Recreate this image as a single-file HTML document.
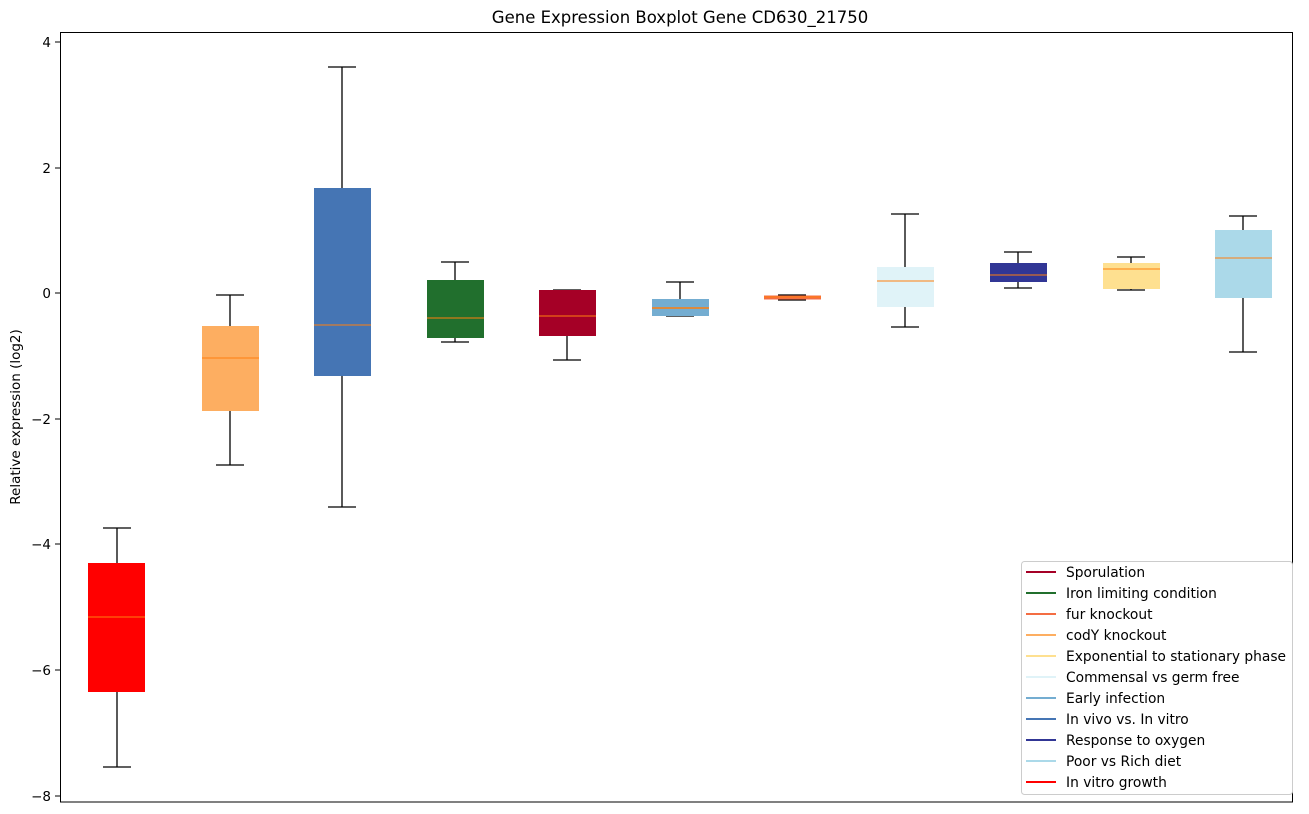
<!DOCTYPE html>
<html><head><meta charset="utf-8"><style>html,body{margin:0;padding:0;background:#fff}svg{display:block}</style></head><body>
<svg width="1309" height="814" xmlns="http://www.w3.org/2000/svg" font-family="DejaVu Sans, Liberation Sans, sans-serif">
<rect width="1309" height="814" fill="#fff"/>
<text x="680" y="23" font-size="16.5" text-anchor="middle" fill="#000">Gene Expression Boxplot Gene CD630_21750</text>
<text transform="translate(20,417) rotate(-90)" font-size="13.5" text-anchor="middle">Relative expression (log2)</text>
<g font-size="13.5" text-anchor="end" fill="#000">
<g stroke="#000"><line x1="55" x2="60" y1="42" y2="42"/><line x1="55" x2="60" y1="168" y2="168"/><line x1="55" x2="60" y1="293" y2="293"/><line x1="55" x2="60" y1="419" y2="419"/><line x1="55" x2="60" y1="544" y2="544"/><line x1="55" x2="60" y1="670" y2="670"/><line x1="55" x2="60" y1="796" y2="796"/></g>
<text x="51" y="47">4</text><text x="51" y="173">2</text><text x="51" y="298">0</text><text x="51" y="424">−2</text><text x="51" y="549">−4</text><text x="51" y="675">−6</text><text x="51" y="801">−8</text>
</g>
<g stroke="#000" stroke-width="1.3" fill="none">
<line x1="117" x2="117" y1="528" y2="767"/><line x1="103" x2="131" y1="528" y2="528"/><line x1="103" x2="131" y1="767" y2="767"/>
<line x1="230" x2="230" y1="295" y2="465"/><line x1="216" x2="244" y1="295" y2="295"/><line x1="216" x2="244" y1="465" y2="465"/>
<line x1="342" x2="342" y1="67" y2="507"/><line x1="328" x2="356" y1="67" y2="67"/><line x1="328" x2="356" y1="507" y2="507"/>
<line x1="455" x2="455" y1="262" y2="342"/><line x1="441" x2="469" y1="262" y2="262"/><line x1="441" x2="469" y1="342" y2="342"/>
<line x1="567" x2="567" y1="290" y2="360"/><line x1="553" x2="581" y1="290" y2="290"/><line x1="553" x2="581" y1="360" y2="360"/>
<line x1="680" x2="680" y1="282" y2="316"/><line x1="666" x2="694" y1="282" y2="282"/><line x1="666" x2="694" y1="316" y2="316"/>
<line x1="792" x2="792" y1="295" y2="300"/><line x1="778" x2="806" y1="295" y2="295"/><line x1="778" x2="806" y1="300" y2="300"/>
<line x1="905" x2="905" y1="214" y2="327"/><line x1="891" x2="919" y1="214" y2="214"/><line x1="891" x2="919" y1="327" y2="327"/>
<line x1="1018" x2="1018" y1="252" y2="288"/><line x1="1004" x2="1032" y1="252" y2="252"/><line x1="1004" x2="1032" y1="288" y2="288"/>
<line x1="1131" x2="1131" y1="257" y2="290"/><line x1="1117" x2="1145" y1="257" y2="257"/><line x1="1117" x2="1145" y1="290" y2="290"/>
<line x1="1243" x2="1243" y1="216" y2="352"/><line x1="1229" x2="1257" y1="216" y2="216"/><line x1="1229" x2="1257" y1="352" y2="352"/>
</g>
<g>
<rect x="88" y="563" width="57" height="129" fill="#ff0000"/><line x1="88" x2="145" y1="617" y2="617" stroke="#ff7f0e"/>
<rect x="202" y="326" width="57" height="85" fill="#fdae61"/><line x1="202" x2="259" y1="358" y2="358" stroke="#ff7f0e"/>
<rect x="314" y="188" width="57" height="188" fill="#4575b4"/><line x1="314" x2="371" y1="325" y2="325" stroke="#ff7f0e"/>
<rect x="427" y="280" width="57" height="58" fill="#216f2d"/><line x1="427" x2="484" y1="318" y2="318" stroke="#ff7f0e"/>
<rect x="539" y="290" width="57" height="46" fill="#a50026"/><line x1="539" x2="596" y1="316" y2="316" stroke="#ff7f0e"/>
<rect x="652" y="299" width="57" height="17" fill="#74add1"/><line x1="652" x2="709" y1="308" y2="308" stroke="#ff7f0e" stroke-width="1.5"/>
<rect x="764" y="295.5" width="57" height="4" fill="#f46d43"/><line x1="764" x2="821" y1="297" y2="297" stroke="#ff7f0e"/>
<rect x="877" y="267" width="57" height="40" fill="#e0f3f8"/><line x1="877" x2="934" y1="281" y2="281" stroke="#ff7f0e"/>
<rect x="990" y="263" width="57" height="19" fill="#313695"/><line x1="990" x2="1047" y1="275" y2="275" stroke="#ff7f0e"/>
<rect x="1103" y="263" width="57" height="26" fill="#fee090"/><line x1="1103" x2="1160" y1="269" y2="269" stroke="#ff7f0e"/>
<rect x="1215" y="230" width="57" height="68" fill="#abd9e9"/><line x1="1215" x2="1272" y1="258" y2="258" stroke="#ff7f0e"/>
</g>
<rect x="60.5" y="32.5" width="1232" height="769.5" fill="none" stroke="#000" stroke-width="1"/>
<rect x="1021.5" y="561.5" width="271" height="233" rx="3" fill="#fff" fill-opacity="0.8" stroke="#ccc"/>
<g font-size="13.8" fill="#000" stroke-width="2">
<line x1="1026" x2="1056" y1="572" y2="572" stroke="#a50026"/><text x="1066" y="577">Sporulation</text>
<line x1="1026" x2="1056" y1="593" y2="593" stroke="#216f2d"/><text x="1066" y="598">Iron limiting condition</text>
<line x1="1026" x2="1056" y1="614" y2="614" stroke="#f46d43"/><text x="1066" y="619">fur knockout</text>
<line x1="1026" x2="1056" y1="635" y2="635" stroke="#fdae61"/><text x="1066" y="640">codY knockout</text>
<line x1="1026" x2="1056" y1="656" y2="656" stroke="#fee090"/><text x="1066" y="661">Exponential to stationary phase</text>
<line x1="1026" x2="1056" y1="677" y2="677" stroke="#e0f3f8"/><text x="1066" y="682">Commensal vs germ free</text>
<line x1="1026" x2="1056" y1="698" y2="698" stroke="#74add1"/><text x="1066" y="703">Early infection</text>
<line x1="1026" x2="1056" y1="719" y2="719" stroke="#4575b4"/><text x="1066" y="724">In vivo vs. In vitro</text>
<line x1="1026" x2="1056" y1="740" y2="740" stroke="#313695"/><text x="1066" y="745">Response to oxygen</text>
<line x1="1026" x2="1056" y1="761" y2="761" stroke="#abd9e9"/><text x="1066" y="766">Poor vs Rich diet</text>
<line x1="1026" x2="1056" y1="782" y2="782" stroke="#ff0000"/><text x="1066" y="787">In vitro growth</text>
</g>
</svg>
</body></html>
